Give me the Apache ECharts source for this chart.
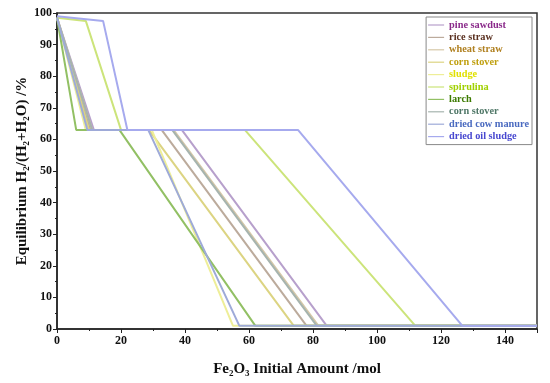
<!DOCTYPE html>
<html>
<head>
<meta charset="utf-8">
<script src="https://cdn.jsdelivr.net/npm/echarts@6/dist/echarts.min.js"></script>
<style>html,body{margin:0;padding:0;background:#fff}#c{width:550px;height:383px}</style>
</head>
<body>
<div id="c"></div>
<script>
// Key points: [Fe2O3 amount, H2/(H2+H2O) %]
const pineSawdust    = [[0,98.5],[11.5,63],[39,63],[84.3,1],[150,1]];
const riceStraw      = [[0,98.5],[10.5,63],[32.7,63],[78,1],[150,1]];
const wheatStraw     = [[0,98.5],[11,63],[36.4,63],[81.7,1],[150,1]];
const cornStover     = [[0,98.5],[10,63],[28.7,63],[74,1],[150,1]];
const sludge         = [[0,98.5],[9,63],[29.6,63],[55,1],[150,1]];
const spirulina      = [[0,98.5],[9,97.5],[20,63],[58.7,63],[112,1],[150,1]];
const larch          = [[0,98.5],[6,63],[19.5,63],[62,1],[150,1]];
const cornStover2    = [[0,98.5],[11,63],[36,63],[81.2,1],[150,1]];
const driedCowManure = [[0,98.5],[9.5,63],[28.5,63],[57,1],[150,1]];
const driedOilSludge = [[0,99],[14.4,97.5],[22,63],[75.3,63],[126.7,1],[150,1]];

const seriesNames = ['pine sawdust','rice straw','wheat straw','corn stover','sludge','spirulina','larch','corn stover ','dried cow manure','dried oil sludge'];
const seriesData  = [pineSawdust,riceStraw,wheatStraw,cornStover,sludge,spirulina,larch,cornStover2,driedCowManure,driedOilSludge];
const lineColors  = ['#b7a0cc','#bcab9c','#d6c8a8','#dcd482','#eeee98','#cce47a','#92c064','#a6b4ae','#9eaad8','#a6aaee'];
const textColors  = ['#8a2a8a','#5a3020','#b08020','#c0a010','#e0e000','#a0d000','#3c7a00','#507868','#4a6ac0','#4848d0'];

const xTicks = [0,20,40,60,80,100,120,140];
const yTicks = [0,10,20,30,40,50,60,70,80,90,100];

const font = 'Liberation Serif';
const chart = echarts.init(document.getElementById('c'), null, {renderer:'canvas'});
chart.setOption({
  animation:false,
  backgroundColor:'#fff',
  grid:{left:57,right:13,top:13,bottom:54,show:true,borderColor:'#333',borderWidth:1.5},
  legend:{
    orient:'vertical', right:18, top:17,
    icon:'rect', itemWidth:16, itemHeight:1.2, itemGap:2.4,
    padding:[3,3,3,2],
    borderColor:'#888', borderWidth:1, backgroundColor:'#fff',
    formatter:n=>n.trim(),
    textStyle:{fontFamily:font,fontWeight:'bold',fontSize:10.3,lineHeight:10},
    data:seriesNames.map((n,i)=>({name:n,textStyle:{color:textColors[i]}}))
  },
  xAxis:{
    type:'value', min:0, max:150, interval:20,
    name:'Fe\u2082O\u2083 Initial Amount /mol', nameLocation:'middle', nameGap:33,
    nameMoveOverlap:false,
    nameTextStyle:{fontFamily:font,fontWeight:'bold',fontSize:15,color:'#111'},
    axisLine:{lineStyle:{color:'#222',width:1.5}},
    axisTick:{inside:false,length:4,lineStyle:{color:'#222'}},
    minorTick:{show:true,splitNumber:2,length:2,lineStyle:{color:'#222'}},
    splitLine:{show:false},
    axisLabel:{fontFamily:font,fontWeight:'bold',fontSize:12,color:'#111',margin:6,
      formatter:v=>xTicks.includes(v)?String(v):''}
  },
  yAxis:{
    type:'value', min:0, max:100, interval:10,
    name:'Equilibrium H\u2082/(H\u2082+H\u2082O) /%', nameLocation:'middle', nameGap:27,
    nameMoveOverlap:false,
    nameTextStyle:{fontFamily:font,fontWeight:'bold',fontSize:15,color:'#111'},
    axisLine:{lineStyle:{color:'#222',width:1.5}},
    axisTick:{inside:false,length:4,lineStyle:{color:'#222'}},
    minorTick:{show:true,splitNumber:2,length:2,lineStyle:{color:'#222'}},
    splitLine:{show:false},
    axisLabel:{fontFamily:font,fontWeight:'bold',fontSize:12,color:'#111',margin:5,
      formatter:v=>yTicks.includes(v)?String(v):''}
  },
  series:seriesNames.map((n,i)=>({
    name:n, type:'line', data:seriesData[i], symbol:'none',
    lineStyle:{color:lineColors[i],width:2}, itemStyle:{color:lineColors[i]}
  }))
});
</script>
</body>
</html>
